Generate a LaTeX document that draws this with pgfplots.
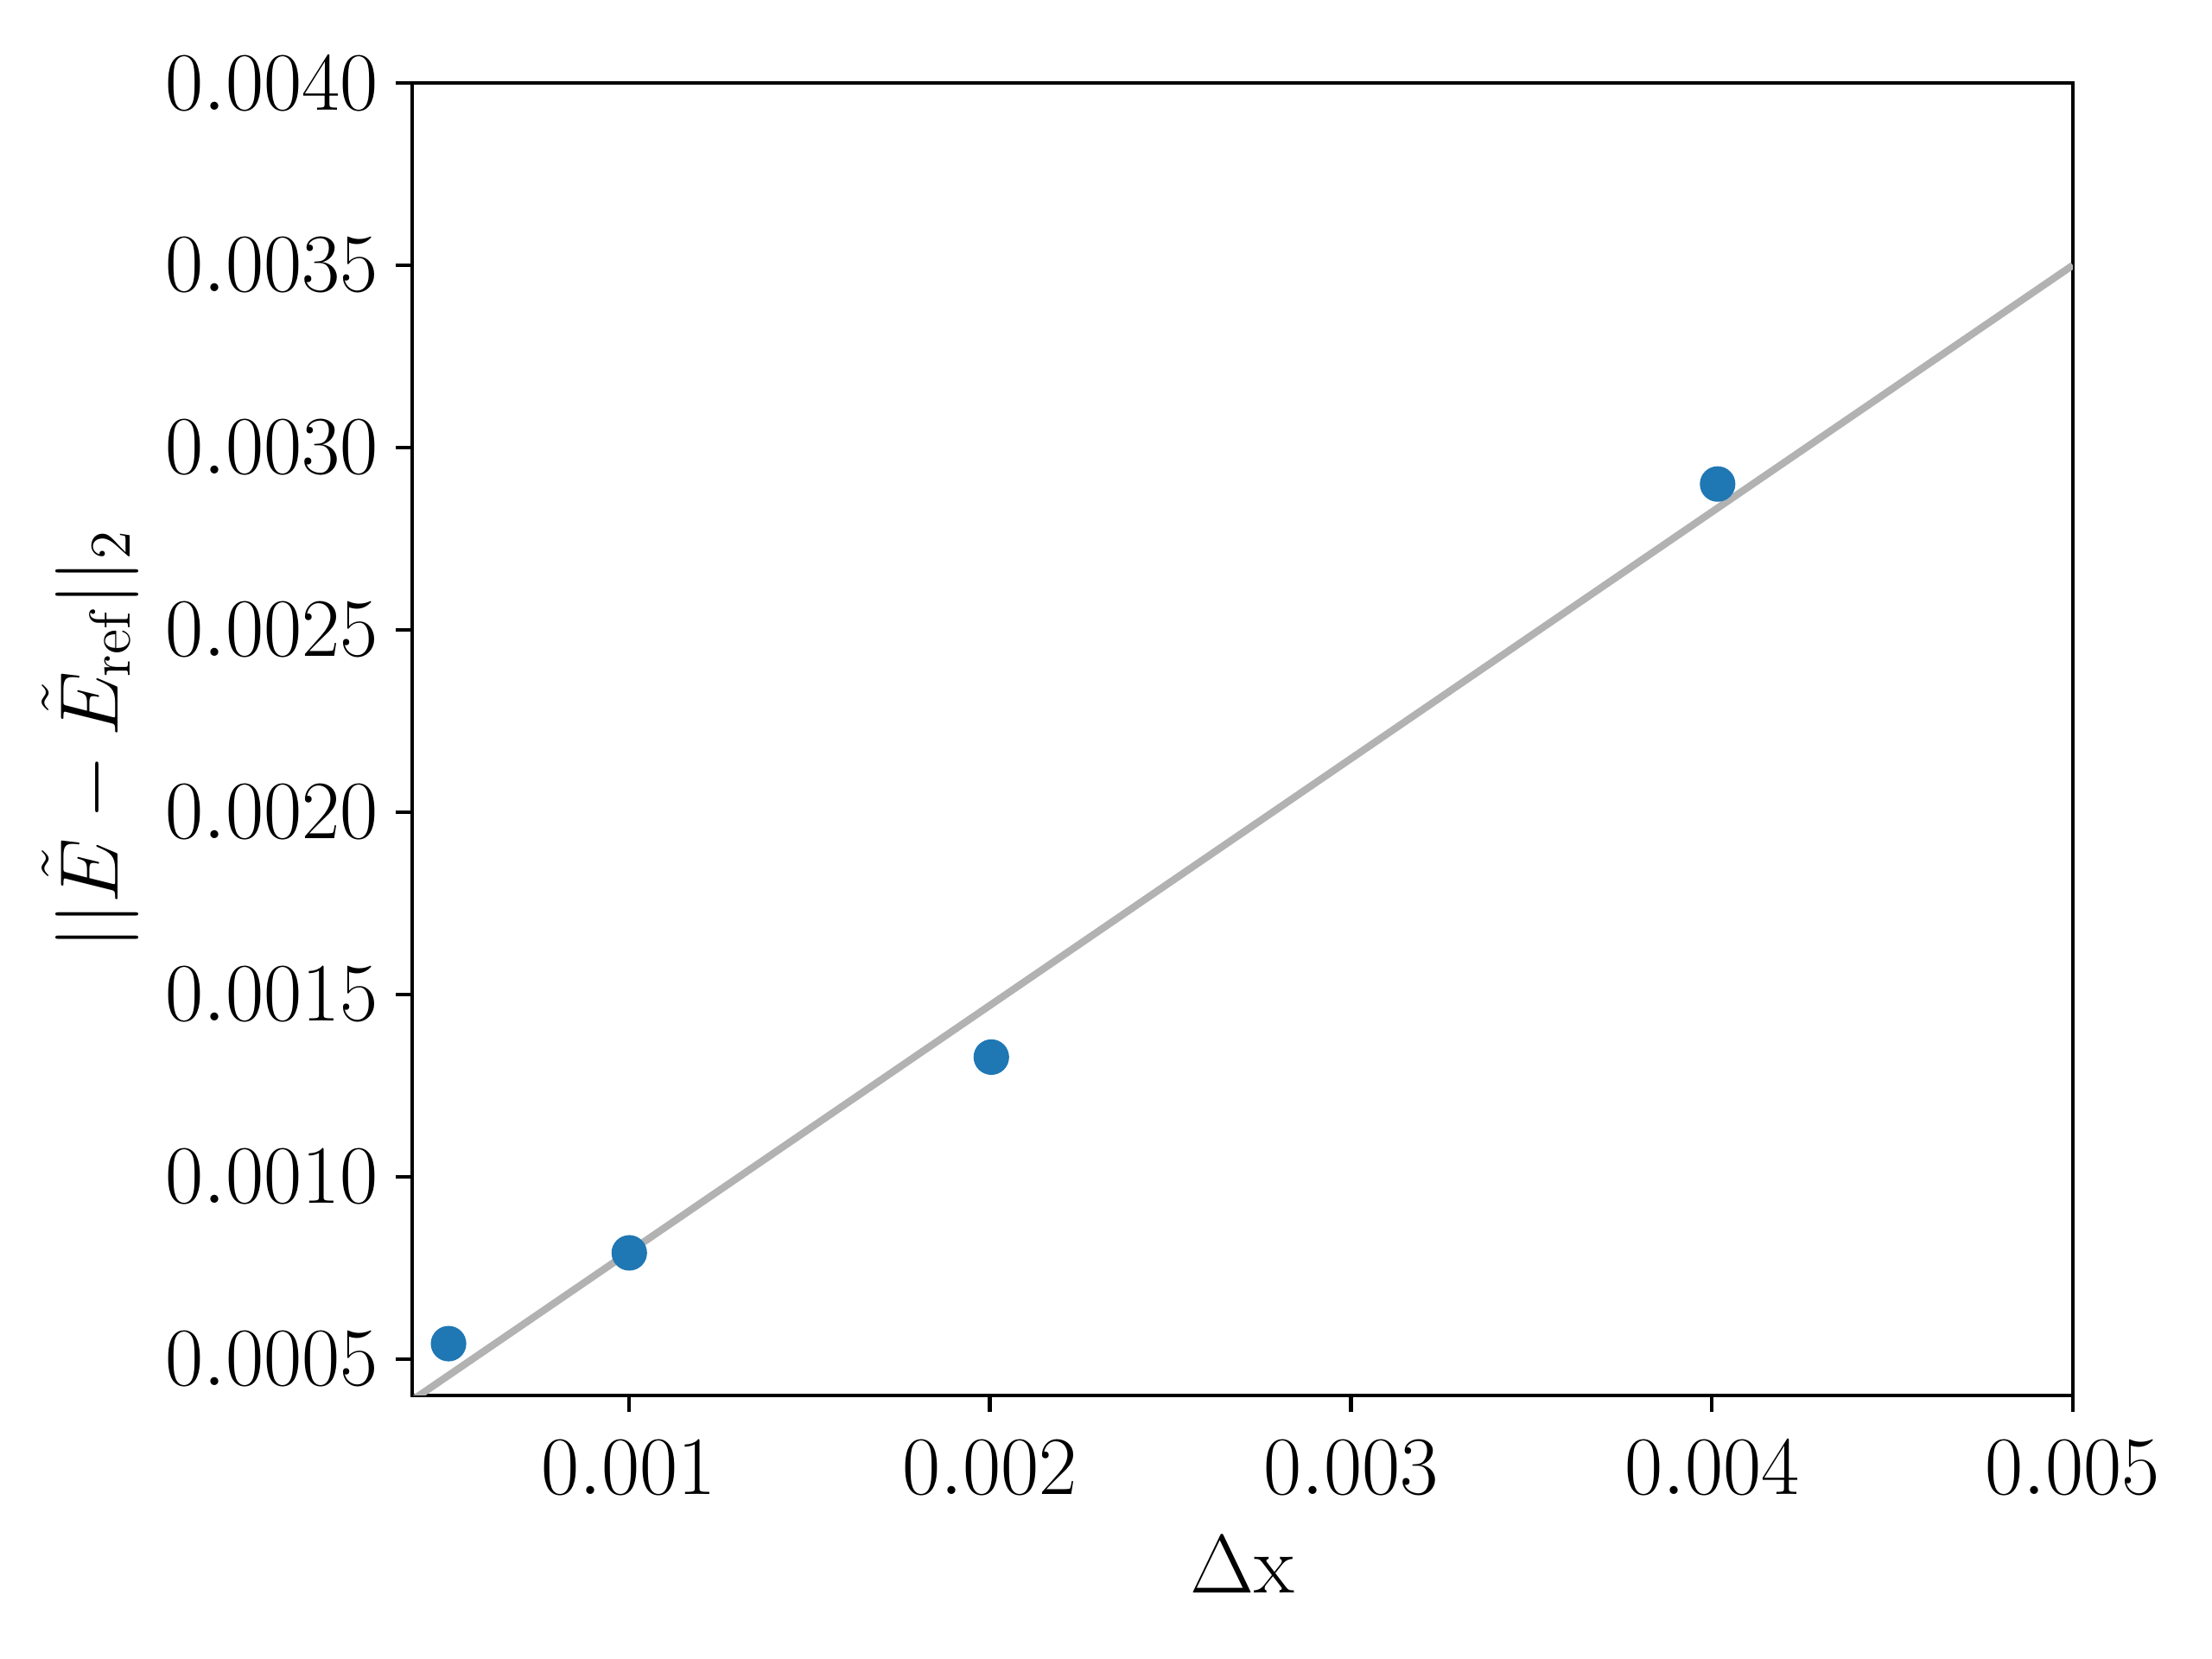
\documentclass[border=0pt]{standalone}
\usepackage{pgfplots}
\pgfplotsset{compat=1.18}
\usetikzlibrary{calc}
\definecolor{tabblue}{HTML}{1F77B4}
\definecolor{lgray}{rgb}{0.7,0.7,0.7}
\begin{document}
\LARGE
\begin{tikzpicture}
\begin{axis}[
  scale only axis,
  width=345.9pt, height=273.4pt,
  xmin=0.0004, xmax=0.005,
  ymin=0.0004, ymax=0.004,
  xtick={0.001,0.002,0.003,0.004,0.005},
  ytick={0.0005,0.0010,0.0015,0.0020,0.0025,0.0030,0.0035,0.0040},
  scaled ticks=false,
  xticklabel style={/pgf/number format/.cd, fixed, fixed zerofill, precision=3},
  yticklabel style={xshift=2.4pt, /pgf/number format/.cd, fixed, fixed zerofill, precision=4},
  tick align=outside,
  major tick length=3.5pt,
  xtick pos=bottom, ytick pos=left,
  tick style={black, line width=0.8pt},
  axis line style={line width=0.8pt},
  xlabel={$\Delta$x},
  xlabel style={yshift=3pt},
  ylabel={$||\tilde{E}-\tilde{E}_{\mathrm{ref}}||_2$},
  ylabel style={at={(axis description cs:-0.194,0.5)}, anchor=center},
]
\addplot[lgray, line width=1.5pt] coordinates {(0.0004,0.000387) (0.005,0.0035)};
\addplot[only marks, mark=*, mark size=3.5pt, color=tabblue] coordinates {
  (0.00050025,0.000542)
  (0.001001,0.000791)
  (0.002004,0.001328)
  (0.004016,0.0029)
};
\end{axis}
\path ($(current axis.south west)+(-85.9pt,-54.9pt)$) rectangle ($(current axis.north east)+(29pt,17.3pt)$);
\end{tikzpicture}
\end{document}
